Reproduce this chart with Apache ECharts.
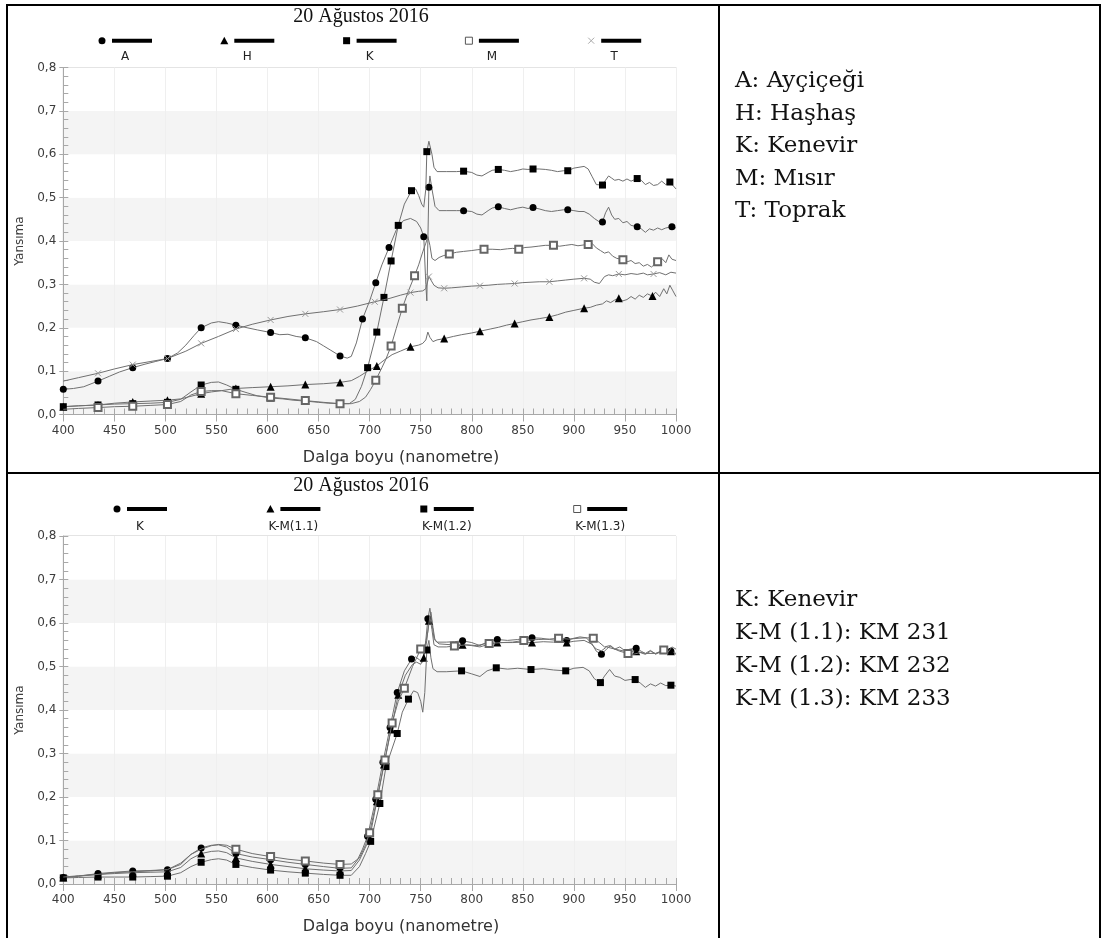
<!DOCTYPE html>
<html>
<head>
<meta charset="utf-8">
<script src="https://cdn.jsdelivr.net/npm/echarts@6/dist/echarts.min.js"></script>
<style>
  html, body { margin: 0; padding: 0; background: #fff; }
  #page { position: relative; width: 1103px; height: 938px; overflow: hidden; background: #fff; }
  #chart { position: absolute; left: 0; top: 0; width: 1103px; height: 938px; }
  .rule { position: absolute; background: #000; }
  .note { position: absolute; left: 735px; height: 30px; line-height: 30px; white-space: nowrap;
          font-family: 'DejaVu Serif', serif; font-size: 23px; color: #111; }
</style>
</head>
<body>
<div id="page">
  <div id="chart"></div>
  <!-- table rules -->
  <div class="rule" style="left:6px;top:4px;width:1095px;height:2px;"></div>
  <div class="rule" style="left:6px;top:4px;width:2px;height:934px;"></div>
  <div class="rule" style="left:1099px;top:4px;width:2px;height:934px;"></div>
  <div class="rule" style="left:718px;top:4px;width:2px;height:934px;"></div>
  <div class="rule" style="left:6px;top:472px;width:1095px;height:2px;"></div>
</div>
<script>
// ---- texts ----
const TITLE = '20 Ağustos 2016';
const X_NAME = 'Dalga boyu (nanometre)';
const Y_NAME = 'Yansıma';
const TOP_NAMES = ['A', 'H', 'K', 'M', 'T'];
const TOP_SYMBOLS = ['circle', 'triangle', 'square', 'open', 'cross'];
const BOTTOM_NAMES = ['K', 'K-M(1.1)', 'K-M(1.2)', 'K-M(1.3)'];
const BOTTOM_SYMBOLS = ['circle', 'triangle', 'square', 'open'];
const TOP_NOTES = ['A: Ayçiçeği', 'H: Haşhaş', 'K: Kenevir', 'M: Mısır', 'T: Toprak'];
const BOTTOM_NOTES = ['K: Kenevir', 'K-M (1.1): KM 231', 'K-M (1.2): KM 232', 'K-M (1.3): KM 233'];

// ---- reflectance spectra, [wavelength nm, reflectance] ----
const A_SPEC = [[400,0.058],[410,0.060],[420,0.064],[434,0.077],[445,0.088],[455,0.098],[468,0.108],[480,0.116],[490,0.122],[502,0.129],[512,0.142],[520,0.160],[528,0.182],[535,0.200],[545,0.211],[552,0.214],[560,0.211],[569,0.206],[580,0.200],[590,0.195],[603,0.189],[612,0.184],[620,0.185],[628,0.180],[637,0.177],[648,0.168],[655,0.158],[662,0.148],[671,0.135],[678,0.130],[682,0.134],[687,0.165],[693,0.220],[700,0.262],[706,0.304],[712,0.345],[719,0.385],[726,0.425],[733,0.447],[740,0.452],[746,0.445],[750,0.430],[753,0.410],[755,0.300],[756,0.262],[757,0.400],[758,0.524],[759,0.550],[761,0.520],[764,0.480],[768,0.470],[775,0.470],[785,0.470],[792,0.470],[800,0.468],[805,0.462],[810,0.460],[816,0.470],[820,0.476],[826,0.479],[832,0.475],[838,0.472],[845,0.476],[850,0.478],[855,0.475],[860,0.477],[866,0.474],[872,0.470],[878,0.468],[884,0.470],[890,0.472],[894,0.472],[900,0.470],[905,0.468],[910,0.468],[915,0.462],[920,0.452],[925,0.444],[928,0.444],[931,0.465],[934,0.478],[937,0.460],[940,0.450],[944,0.452],[948,0.442],[952,0.445],[956,0.436],[962,0.433],[966,0.428],[970,0.420],[974,0.428],[978,0.425],[982,0.430],[986,0.426],[990,0.430],[996,0.433],[1000,0.430]];
const A_MARKS = [400,434,468,502,535,569,603,637,671,693,706,719,753,758,792,826,860,894,928,962,996];

const H_SPEC = [[400,0.018],[415,0.020],[434,0.022],[450,0.026],[468,0.029],[485,0.031],[502,0.033],[515,0.036],[525,0.042],[535,0.048],[545,0.052],[555,0.055],[569,0.060],[585,0.062],[603,0.064],[620,0.066],[637,0.069],[655,0.071],[671,0.074],[682,0.078],[690,0.088],[698,0.100],[707,0.112],[714,0.125],[722,0.138],[730,0.146],[740,0.156],[748,0.160],[752,0.164],[755,0.172],[757,0.190],[759,0.178],[762,0.168],[766,0.172],[773,0.175],[782,0.180],[790,0.184],[800,0.188],[808,0.192],[818,0.197],[826,0.201],[834,0.206],[842,0.210],[850,0.214],[858,0.218],[866,0.221],[876,0.225],[884,0.230],[892,0.236],[900,0.240],[910,0.245],[916,0.247],[922,0.252],[928,0.255],[932,0.262],[936,0.258],[940,0.264],[944,0.268],[948,0.262],[952,0.265],[956,0.272],[960,0.266],[964,0.275],[968,0.270],[972,0.278],[977,0.273],[980,0.282],[984,0.272],[988,0.290],[991,0.278],[994,0.298],[997,0.285],[1000,0.272]];
const H_MARKS = [400,434,468,502,535,569,603,637,671,707,740,773,808,842,876,910,944,977];

const K_SPEC = [[400,0.018],[415,0.020],[434,0.022],[450,0.024],[468,0.025],[485,0.026],[502,0.028],[515,0.035],[525,0.052],[535,0.068],[545,0.074],[552,0.075],[560,0.068],[569,0.058],[580,0.050],[590,0.043],[603,0.038],[615,0.036],[625,0.033],[637,0.031],[650,0.028],[660,0.026],[671,0.025],[680,0.025],[686,0.035],[692,0.065],[698,0.108],[707,0.190],[714,0.270],[721,0.354],[728,0.436],[734,0.485],[741,0.516],[745,0.520],[748,0.505],[751,0.485],[753,0.478],[755,0.520],[756,0.606],[758,0.630],[759,0.633],[761,0.600],[763,0.570],[766,0.560],[775,0.560],[785,0.560],[792,0.561],[800,0.558],[805,0.552],[810,0.550],[816,0.558],[820,0.563],[826,0.565],[832,0.563],[838,0.560],[845,0.563],[850,0.566],[855,0.565],[860,0.566],[866,0.566],[872,0.565],[878,0.563],[884,0.560],[890,0.562],[894,0.562],[900,0.568],[905,0.570],[910,0.572],[914,0.566],[918,0.548],[922,0.530],[928,0.529],[931,0.540],[934,0.550],[937,0.545],[940,0.540],[944,0.542],[948,0.538],[952,0.543],[956,0.538],[962,0.544],[966,0.540],[970,0.530],[974,0.535],[978,0.528],[982,0.530],[986,0.538],[990,0.530],[994,0.536],[997,0.528],[1000,0.520]];
const K_MARKS = [400,434,468,502,535,569,603,637,671,698,707,714,721,728,741,756,792,826,860,894,928,962,994];

const M_SPEC = [[400,0.012],[415,0.014],[434,0.016],[450,0.018],[468,0.019],[485,0.021],[502,0.023],[515,0.030],[525,0.045],[535,0.053],[545,0.055],[555,0.055],[569,0.048],[585,0.044],[603,0.040],[620,0.036],[637,0.032],[655,0.028],[671,0.025],[682,0.025],[690,0.030],[696,0.040],[701,0.058],[706,0.079],[712,0.108],[716,0.128],[721,0.158],[726,0.198],[732,0.245],[738,0.285],[744,0.320],[748,0.345],[752,0.375],[755,0.395],[757,0.410],[759,0.390],[761,0.360],[764,0.355],[768,0.362],[772,0.366],[778,0.370],[785,0.374],[792,0.376],[800,0.378],[806,0.380],[812,0.381],[820,0.381],[828,0.380],[835,0.382],[840,0.383],[846,0.381],[852,0.385],[858,0.386],[865,0.388],[872,0.390],[880,0.390],[886,0.388],[892,0.390],[898,0.392],[904,0.389],[910,0.391],[914,0.392],[918,0.394],[922,0.384],[926,0.378],[930,0.372],[934,0.375],[938,0.365],[942,0.360],[948,0.357],[952,0.352],[956,0.355],[960,0.348],[964,0.350],[968,0.342],[972,0.346],[976,0.340],[982,0.352],[986,0.360],[990,0.350],[993,0.368],[996,0.358],[1000,0.355]];
const M_MARKS = [434,468,502,535,569,603,637,671,706,721,732,744,778,812,846,880,914,948,982];

const T_SPEC = [[400,0.077],[415,0.085],[434,0.095],[450,0.105],[468,0.115],[485,0.122],[502,0.129],[520,0.146],[535,0.164],[552,0.180],[569,0.197],[585,0.208],[603,0.218],[620,0.226],[637,0.232],[655,0.237],[671,0.242],[688,0.250],[705,0.260],[720,0.268],[730,0.275],[740,0.281],[748,0.284],[752,0.285],[755,0.290],[758,0.318],[760,0.310],[763,0.298],[767,0.292],[773,0.291],[780,0.292],[790,0.294],[800,0.296],[808,0.297],[816,0.298],[825,0.300],[833,0.301],[842,0.302],[850,0.304],[858,0.305],[866,0.306],[876,0.306],[884,0.308],[892,0.310],[900,0.312],[910,0.314],[916,0.312],[920,0.305],[925,0.302],[930,0.318],[934,0.322],[938,0.320],[944,0.324],[950,0.322],[956,0.325],[962,0.323],[968,0.326],[972,0.322],[978,0.324],[984,0.327],[990,0.322],[995,0.328],[1000,0.326]];
const T_MARKS = [434,468,502,535,569,603,637,671,705,740,758,773,808,842,876,910,944,978];

const K2_SPEC = [[400,0.015],[415,0.018],[434,0.024],[450,0.027],[468,0.030],[485,0.031],[502,0.033],[515,0.045],[525,0.068],[535,0.083],[545,0.089],[552,0.090],[560,0.085],[569,0.070],[585,0.062],[603,0.056],[620,0.050],[637,0.045],[655,0.040],[671,0.036],[682,0.037],[688,0.055],[693,0.080],[698,0.110],[706,0.195],[713,0.280],[720,0.360],[727,0.440],[734,0.490],[741,0.517],[745,0.522],[749,0.515],[752,0.510],[755,0.560],[757,0.610],[759,0.634],[761,0.600],[763,0.565],[766,0.556],[775,0.556],[783,0.557],[791,0.559],[800,0.555],[808,0.548],[815,0.556],[820,0.560],[825,0.562],[835,0.560],[845,0.562],[852,0.565],[859,0.566],[868,0.565],[876,0.562],[884,0.560],[893,0.560],[900,0.565],[906,0.568],[912,0.566],[917,0.555],[922,0.535],[927,0.528],[932,0.540],[936,0.548],[940,0.540],[945,0.545],[950,0.536],[955,0.540],[961,0.542],[966,0.535],[970,0.530],[975,0.537],[980,0.528],[985,0.535],[990,0.530],[995,0.535],[1000,0.528]];
const K2_MARKS = [400,434,468,502,535,569,603,637,671,698,706,713,720,727,741,757,791,825,859,893,927,961,995];

const KM11_SPEC = [[400,0.015],[415,0.018],[434,0.022],[450,0.024],[468,0.026],[485,0.027],[502,0.028],[515,0.038],[525,0.058],[535,0.070],[545,0.075],[552,0.076],[560,0.072],[569,0.060],[585,0.052],[603,0.045],[620,0.040],[637,0.035],[655,0.032],[671,0.030],[682,0.031],[690,0.055],[696,0.085],[700,0.105],[707,0.190],[714,0.275],[721,0.355],[728,0.435],[735,0.480],[742,0.505],[746,0.510],[750,0.505],[753,0.520],[756,0.560],[758,0.605],[760,0.625],[762,0.590],[764,0.560],[768,0.552],[780,0.550],[791,0.550],[800,0.548],[808,0.545],[815,0.550],[825,0.555],[840,0.555],[850,0.556],[859,0.555],[870,0.557],[880,0.556],[893,0.555],[900,0.558],[910,0.560],[917,0.552],[922,0.540],[927,0.536],[932,0.545],[940,0.540],[950,0.535],[961,0.535],[970,0.530],[980,0.530],[990,0.535],[995,0.535],[1000,0.530]];
const KM11_MARKS = [400,434,468,502,535,569,603,637,671,700,707,714,721,728,753,758,791,825,859,893,961,995];

const KM12_SPEC = [[400,0.014],[415,0.015],[434,0.016],[450,0.016],[468,0.016],[485,0.017],[502,0.018],[515,0.026],[525,0.040],[535,0.050],[545,0.056],[552,0.058],[560,0.055],[569,0.045],[585,0.038],[603,0.032],[620,0.028],[637,0.025],[655,0.022],[671,0.020],[682,0.020],[690,0.040],[696,0.070],[701,0.098],[710,0.185],[716,0.270],[727,0.346],[732,0.395],[738,0.425],[743,0.444],[747,0.440],[750,0.420],[752,0.395],[754,0.440],[756,0.538],[758,0.560],[760,0.520],[762,0.495],[766,0.488],[775,0.488],[790,0.490],[800,0.483],[808,0.477],[815,0.490],[824,0.497],[835,0.494],[845,0.496],[858,0.493],[870,0.495],[880,0.492],[892,0.490],[900,0.496],[909,0.498],[915,0.490],[920,0.472],[926,0.463],[930,0.478],[935,0.493],[940,0.478],[945,0.475],[950,0.468],[955,0.470],[960,0.470],[965,0.462],[970,0.452],[975,0.460],[980,0.455],[985,0.462],[990,0.456],[995,0.457],[1000,0.455]];
const KM12_MARKS = [400,434,468,502,535,569,603,637,671,701,710,716,727,738,756,790,824,858,892,926,960,995];

const KM13_SPEC = [[400,0.016],[415,0.019],[434,0.022],[450,0.026],[468,0.028],[485,0.030],[502,0.033],[515,0.048],[525,0.068],[535,0.080],[545,0.088],[552,0.091],[560,0.089],[569,0.080],[585,0.070],[603,0.063],[620,0.057],[637,0.053],[655,0.048],[671,0.045],[682,0.046],[690,0.060],[696,0.090],[700,0.118],[708,0.205],[715,0.285],[722,0.370],[728,0.420],[734,0.450],[742,0.500],[750,0.540],[754,0.545],[757,0.580],[759,0.615],[761,0.585],[763,0.550],[767,0.545],[775,0.545],[783,0.547],[795,0.550],[805,0.548],[812,0.552],[817,0.553],[830,0.555],[840,0.556],[851,0.560],[865,0.562],[876,0.563],[885,0.565],[895,0.563],[905,0.565],[913,0.566],[919,0.565],[925,0.555],[930,0.545],[935,0.548],[940,0.540],[945,0.535],[953,0.530],[958,0.528],[965,0.532],[970,0.528],[975,0.535],[980,0.530],[988,0.538],[992,0.532],[996,0.545],[1000,0.540]];
const KM13_MARKS = [569,603,637,671,700,708,715,722,734,750,783,817,851,885,919,953,988];

// ---- axis ticks ----
const X_MIN = 400, X_MAX = 1000, X_STEP = 50, X_MINOR = 10;
const Y_MIN = 0, Y_MAX = 0.8, Y_STEP = 0.1, Y_MINOR = 0.02;

// ---- drawing ----
const LINE_COLOR = '#707070';
const AXIS_COLOR = '#a8a8a8';
const LABEL_FONT = 'DejaVu Sans';

const SYMBOLS = {
  circle: { symbol: 'circle', size: 7, item: { color: '#000', borderWidth: 0 } },
  triangle: { symbol: 'triangle', size: 8, item: { color: '#000', borderWidth: 0 } },
  square: { symbol: 'rect', size: 7, item: { color: '#000', borderWidth: 0 } },
  open: { symbol: 'emptyRect', size: 7, item: { color: '#666', borderColor: '#666', borderWidth: 1 } },
  cross: { symbol: 'path://M0,0L10,10M10,0L0,10', size: 6, item: { color: '#999', borderColor: '#999', borderWidth: 1 } }
};

const PANELS = [
  { top: 67.5, height: 347, legendX: 102, legendDx: 122.3, legendY: 40.7, labelY: 57,
    names: TOP_NAMES, symbols: TOP_SYMBOLS, titleY: 17, xNameY: 458,
    data: [[A_SPEC, A_MARKS], [H_SPEC, H_MARKS], [K_SPEC, K_MARKS], [M_SPEC, M_MARKS], [T_SPEC, T_MARKS]] },
  { top: 536, height: 348, legendX: 117, legendDx: 153.4, legendY: 509, labelY: 527,
    names: BOTTOM_NAMES, symbols: BOTTOM_SYMBOLS, titleY: 485.5, xNameY: 927,
    data: [[K2_SPEC, K2_MARKS], [KM11_SPEC, KM11_MARKS], [KM12_SPEC, KM12_MARKS], [KM13_SPEC, KM13_MARKS]] }
];
const GRID_LEFT = 63.3, GRID_WIDTH = 612.7;

const fmtY = v => v.toFixed(1).replace('.', ',');
const fmtX = v => String(v);

const grids = [], xAxes = [], yAxes = [], series = [], graphics = [];

PANELS.forEach((p, gi) => {
  grids.push({ left: GRID_LEFT, top: p.top, width: GRID_WIDTH, height: p.height,
    show: true, borderColor: '#c8c8c8', borderWidth: 1, backgroundColor: 'transparent' });
  // main x axis: labels and outward major ticks
  xAxes.push({ type: 'value', gridIndex: gi, position: 'bottom', min: X_MIN, max: X_MAX, interval: X_STEP,
    axisLine: { show: true, lineStyle: { color: AXIS_COLOR, width: 1 } },
    axisTick: { show: true, inside: false, length: 7, lineStyle: { color: AXIS_COLOR } },
    axisLabel: { show: true, margin: 10, color: '#3c3c3c', fontFamily: LABEL_FONT, fontSize: 12, formatter: fmtX },
    splitLine: { show: true, lineStyle: { color: '#efefef', width: 1 } } });
  // minor x ticks pointing into the plot
  xAxes.push({ type: 'value', gridIndex: gi, position: 'bottom', min: X_MIN, max: X_MAX, interval: X_MINOR,
    axisLine: { show: false }, axisLabel: { show: false }, splitLine: { show: false },
    axisTick: { show: true, inside: true, length: 6, lineStyle: { color: AXIS_COLOR } } });
  yAxes.push({ type: 'value', gridIndex: gi, position: 'left', min: Y_MIN, max: Y_MAX, interval: Y_STEP,
    name: Y_NAME, nameLocation: 'middle', nameRotate: 90, nameGap: 36,
    nameTextStyle: { color: '#3c3c3c', fontFamily: LABEL_FONT, fontSize: 12 },
    axisLine: { show: true, lineStyle: { color: AXIS_COLOR, width: 1 } },
    axisTick: { show: true, inside: false, length: 4, lineStyle: { color: AXIS_COLOR } },
    axisLabel: { show: true, margin: 7, color: '#3c3c3c', fontFamily: LABEL_FONT, fontSize: 12, formatter: fmtY },
    splitLine: { show: false },
    splitArea: { show: true, areaStyle: { color: ['#f4f4f4', '#ffffff'] } } });
  yAxes.push({ type: 'value', gridIndex: gi, position: 'left', min: Y_MIN, max: Y_MAX, interval: Y_MINOR,
    axisLine: { show: false }, axisLabel: { show: false }, splitLine: { show: false },
    axisTick: { show: true, inside: true, length: 5, lineStyle: { color: AXIS_COLOR } } });

  const ax = gi * 2;
  p.data.forEach(([spec, marks], si) => {
    const s = SYMBOLS[p.symbols[si]];
    const shown = new Set(marks);
    series.push({
      type: 'line', name: p.names[si], xAxisIndex: ax, yAxisIndex: ax,
      showSymbol: true, showAllSymbol: true, symbolSize: s.size,
      lineStyle: { color: LINE_COLOR, width: 1 },
      itemStyle: s.item,
      emphasis: { disabled: true },
      z: 3 + si,
      data: spec.map(pt => ({ value: pt, symbol: shown.has(pt[0]) ? s.symbol : 'none' }))
    });
  });

  // chart title
  graphics.push({ type: 'text', x: 361, y: p.titleY,
    style: { text: TITLE, font: '20px "Liberation Serif"', fill: '#111', align: 'center', verticalAlign: 'middle' } });
  // x axis name (sits right of centre in this layout)
  graphics.push({ type: 'text', x: 401, y: p.xNameY,
    style: { text: X_NAME, font: '16px "DejaVu Sans"', fill: '#333', align: 'center', verticalAlign: 'middle' } });

  // legend: marker, thick bar, label underneath
  p.names.forEach((nm, i) => {
    const cx = p.legendX + i * p.legendDx, cy = p.legendY;
    const key = p.symbols[i];
    if (key === 'circle') graphics.push({ type: 'circle', shape: { cx, cy, r: 3.5 }, style: { fill: '#000' } });
    else if (key === 'triangle') graphics.push({ type: 'polygon', shape: { points: [[cx, cy - 4], [cx + 4, cy + 3.5], [cx - 4, cy + 3.5]] }, style: { fill: '#000' } });
    else if (key === 'square') graphics.push({ type: 'rect', shape: { x: cx - 3.5, y: cy - 3.5, width: 7, height: 7 }, style: { fill: '#000' } });
    else if (key === 'open') graphics.push({ type: 'rect', shape: { x: cx - 3.5, y: cy - 3.5, width: 7, height: 7 }, style: { fill: '#fff', stroke: '#555', lineWidth: 1 } });
    else graphics.push({ type: 'group', children: [
      { type: 'line', shape: { x1: cx - 3, y1: cy - 3, x2: cx + 3, y2: cy + 3 }, style: { stroke: '#aaa', lineWidth: 1 } },
      { type: 'line', shape: { x1: cx + 3, y1: cy - 3, x2: cx - 3, y2: cy + 3 }, style: { stroke: '#aaa', lineWidth: 1 } }] });
    graphics.push({ type: 'rect', shape: { x: cx + 10, y: cy - 2, width: 40, height: 4 }, style: { fill: '#000' } });
    graphics.push({ type: 'text', x: cx + 23, y: p.labelY,
      style: { text: nm, font: '12px "DejaVu Sans"', fill: '#222', align: 'center', verticalAlign: 'middle' } });
  });
});

const chart = echarts.init(document.getElementById('chart'), null, { renderer: 'canvas' });
chart.setOption({
  animation: false,
  backgroundColor: '#fff',
  grid: grids,
  xAxis: xAxes,
  yAxis: yAxes,
  series: series,
  graphic: graphics
});

// side notes
const page = document.getElementById('page');
function addNotes(lines, firstCenter, step) {
  lines.forEach((t, i) => {
    const d = document.createElement('div');
    d.className = 'note';
    d.textContent = t;
    d.style.top = (firstCenter + i * step - 15) + 'px';
    page.appendChild(d);
  });
}
addNotes(TOP_NOTES, 79, 32.5);
addNotes(BOTTOM_NOTES, 598, 33);
</script>
</body>
</html>
